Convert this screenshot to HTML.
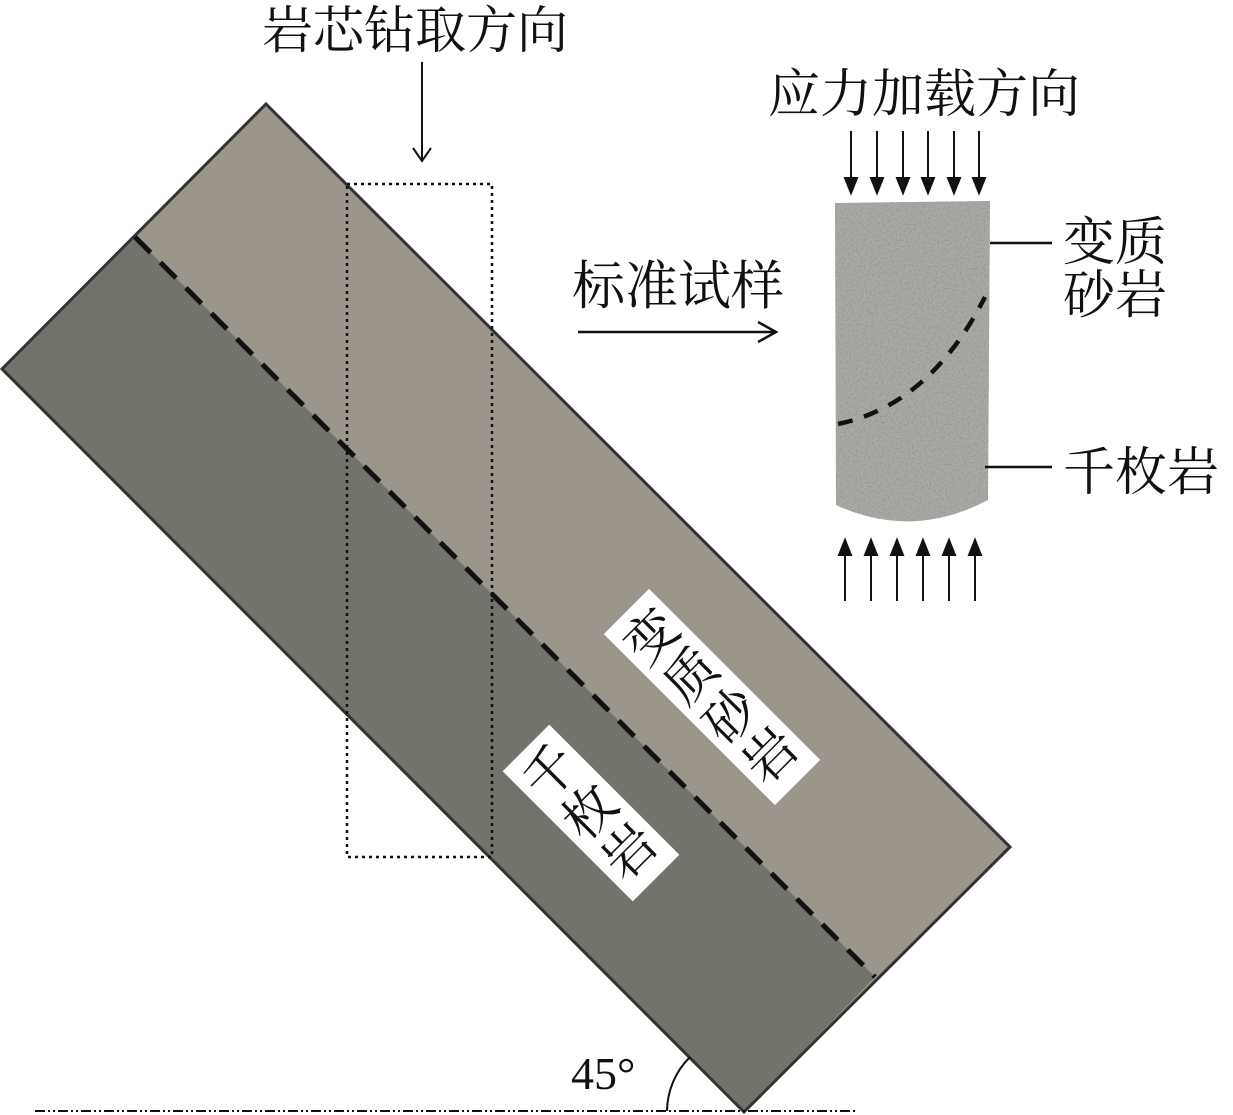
<!DOCTYPE html>
<html><head><meta charset="utf-8"><style>
html,body{margin:0;padding:0;background:#fff;}
svg{display:block;}
text{font-family:"Liberation Serif","Noto Serif CJK SC",serif;fill:#111;}
</style></head><body>
<svg width="1233" height="1115" viewBox="0 0 1233 1115" xmlns="http://www.w3.org/2000/svg">
<defs>
<filter id="noise"><feTurbulence type="fractalNoise" baseFrequency="0.5" numOctaves="2" seed="3"/><feColorMatrix values="0 0 0 0 0.3  0 0 0 0 0.3  0 0 0 0 0.3  0 0 0 -3 1.6"/><feComposite in2="SourceGraphic" operator="in"/></filter>
<clipPath id="cyl"><path d="M835,203 L990,201 L988,500 Q912,540 836,505 Z"/></clipPath>
</defs>
<polygon points="266,104 1010,847 744,1112 2,369" fill="#9c958c"/>
<polygon points="135,237 875,977 744,1112 2,369" fill="#72736a"/>
<polygon points="266,104 1010,847 744,1112 2,369" fill="none" stroke="#333" stroke-width="3"/>
<line x1="135" y1="237" x2="875" y2="977" stroke="#111" stroke-width="5" stroke-dasharray="22,14"/>
<rect x="347" y="184" width="145" height="673" fill="none" stroke="#111" stroke-width="2.5" stroke-dasharray="3,4"/>
<text x="262" y="48" font-size="51">岩芯钻取方向</text>
<line x1="422" y1="62" x2="422" y2="160" stroke="#111" stroke-width="2"/>
<polyline points="413,148 422,161 431,148" fill="none" stroke="#111" stroke-width="2"/>
<text x="572" y="304" font-size="53">标准试样</text>
<line x1="578" y1="332" x2="775" y2="332" stroke="#111" stroke-width="2.5"/>
<polyline points="758,322 776,332 758,342" fill="none" stroke="#111" stroke-width="2.5"/>
<text x="768" y="112" font-size="52">应力加载方向</text>
<g stroke="#111" stroke-width="2" fill="#111">
<line x1="851" y1="131" x2="851" y2="180"/><polygon points="845,178 857,178 851,193"/>
<line x1="877" y1="131" x2="877" y2="180"/><polygon points="871,178 883,178 877,193"/>
<line x1="903" y1="131" x2="903" y2="180"/><polygon points="897,178 909,178 903,193"/>
<line x1="928" y1="131" x2="928" y2="180"/><polygon points="922,178 934,178 928,193"/>
<line x1="954" y1="131" x2="954" y2="180"/><polygon points="948,178 960,178 954,193"/>
<line x1="979" y1="131" x2="979" y2="180"/><polygon points="973,178 985,178 979,193"/>
<line x1="845" y1="553" x2="845" y2="601"/><polygon points="839,555 851,555 845,540"/>
<line x1="871" y1="553" x2="871" y2="601"/><polygon points="865,555 877,555 871,540"/>
<line x1="897" y1="553" x2="897" y2="601"/><polygon points="891,555 903,555 897,540"/>
<line x1="923" y1="553" x2="923" y2="601"/><polygon points="917,555 929,555 923,540"/>
<line x1="949" y1="553" x2="949" y2="601"/><polygon points="943,555 955,555 949,540"/>
<line x1="975" y1="553" x2="975" y2="601"/><polygon points="969,555 981,555 975,540"/>
</g>
<path d="M835,203 L990,201 L988,500 Q912,540 836,505 Z" fill="#a8a9a3"/>
<rect x="830" y="195" width="165" height="330" clip-path="url(#cyl)" filter="url(#noise)" fill="#000"/>
<path d="M838,424 Q930,405 985,297" fill="none" stroke="#111" stroke-width="4.5" stroke-dasharray="15,12"/>
<line x1="990" y1="243" x2="1052" y2="243" stroke="#111" stroke-width="2.5"/>
<line x1="985" y1="467" x2="1052" y2="467" stroke="#111" stroke-width="2.5"/>
<text x="1063" y="260" font-size="52">变质</text>
<text x="1063" y="313" font-size="52">砂岩</text>
<text x="1063" y="490" font-size="52">千枚岩</text>
<g transform="translate(712,697) rotate(45)">
<rect x="-121" y="-32" width="242" height="64" fill="#fff"/>
<g font-size="52" text-anchor="middle" dominant-baseline="central">
<text transform="translate(-84,0) rotate(-90)" x="0" y="0">变</text>
<text transform="translate(-28,0) rotate(-90)" x="0" y="0">质</text>
<text transform="translate(28,0) rotate(-90)" x="0" y="0">砂</text>
<text transform="translate(84,0) rotate(-90)" x="0" y="0">岩</text>
</g>
</g>
<g transform="translate(591,813) rotate(45)">
<rect x="-92" y="-33" width="184" height="66" fill="#fff"/>
<g font-size="52" text-anchor="middle" dominant-baseline="central">
<text transform="translate(-56,0) rotate(-90)" x="0" y="0">千</text>
<text transform="translate(0,0) rotate(-90)" x="0" y="0">枚</text>
<text transform="translate(56,0) rotate(-90)" x="0" y="0">岩</text>
</g>
</g>
<line x1="35" y1="1111" x2="858" y2="1111" stroke="#111" stroke-width="2" stroke-dasharray="10,3,2,3,2,3"/>
<path d="M667,1111 A77,77 0 0 1 690,1057" fill="none" stroke="#111" stroke-width="2"/>
<text x="571" y="1089" font-size="46">45°</text>
</svg>
</body></html>
